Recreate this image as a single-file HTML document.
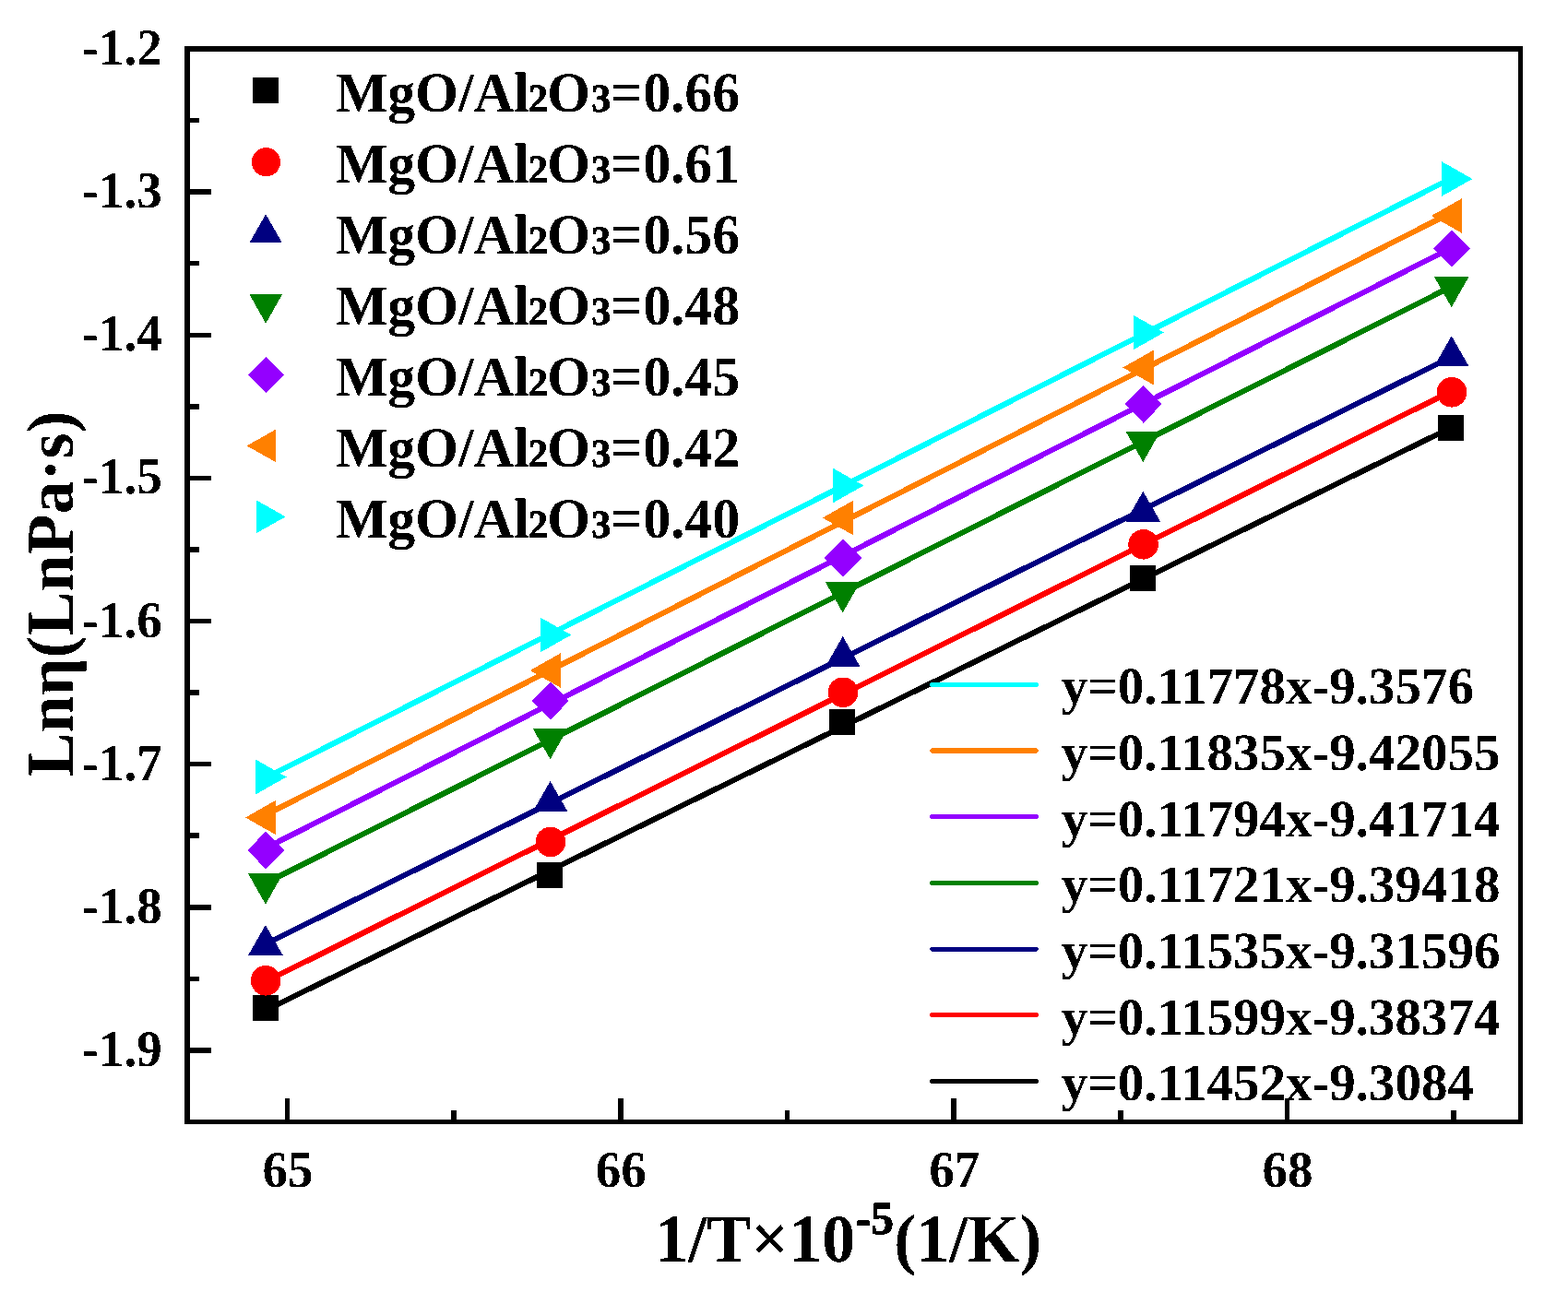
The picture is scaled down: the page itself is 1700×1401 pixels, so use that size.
<!DOCTYPE html>
<html lang="en"><head><meta charset="utf-8"><title>Ln viscosity vs 1/T</title>
<style>
html,body{margin:0;padding:0;background:#fff;}
body{width:1700px;height:1401px;overflow:hidden;}
svg{display:block;}
text{font-family:"Liberation Serif","DejaVu Serif",serif;font-weight:bold;fill:#000;text-rendering:geometricPrecision;stroke:#000;stroke-width:0px;stroke-linejoin:round;}
.tk{font-size:55px;}
.lg{font-size:60px;}
.eq{font-size:57px;}
.ti{font-size:72px;}
.sb{font-size:42px;stroke-width:0.8px;}
.sp{font-size:49.5px;stroke-width:0.8px;}
</style></head><body>
<svg width="1700" height="1401" viewBox="0 0 1700 1401">
<rect x="0" y="0" width="1700" height="1401" fill="#ffffff"/>
<defs><filter id="th" x="-5%" y="-20%" width="110%" height="140%" color-interpolation-filters="sRGB"><feComponentTransfer><feFuncA type="discrete" tableValues="0 1"/></feComponentTransfer></filter></defs>
<g shape-rendering="crispEdges">
<rect x="203" y="53" width="1445.5" height="1163.5" fill="none" stroke="#000" stroke-width="5.5"/>
<rect x="203" y="127.82" width="12.75" height="5.5" fill="#000"/>
<rect x="203" y="205.38" width="25.75" height="5.5" fill="#000"/>
<rect x="203" y="282.95" width="12.75" height="5.5" fill="#000"/>
<rect x="203" y="360.52" width="25.75" height="5.5" fill="#000"/>
<rect x="203" y="438.08" width="12.75" height="5.5" fill="#000"/>
<rect x="203" y="515.65" width="25.75" height="5.5" fill="#000"/>
<rect x="203" y="593.22" width="12.75" height="5.5" fill="#000"/>
<rect x="203" y="670.78" width="25.75" height="5.5" fill="#000"/>
<rect x="203" y="748.35" width="12.75" height="5.5" fill="#000"/>
<rect x="203" y="825.92" width="25.75" height="5.5" fill="#000"/>
<rect x="203" y="903.48" width="12.75" height="5.5" fill="#000"/>
<rect x="203" y="981.05" width="25.75" height="5.5" fill="#000"/>
<rect x="203" y="1058.62" width="12.75" height="5.5" fill="#000"/>
<rect x="203" y="1136.18" width="25.75" height="5.5" fill="#000"/>
<rect x="308.66" y="1190.75" width="5.5" height="25.75" fill="#000"/>
<rect x="489.35" y="1203.75" width="5.5" height="12.75" fill="#000"/>
<rect x="670.04" y="1190.75" width="5.5" height="25.75" fill="#000"/>
<rect x="850.72" y="1203.75" width="5.5" height="12.75" fill="#000"/>
<rect x="1031.41" y="1190.75" width="5.5" height="25.75" fill="#000"/>
<rect x="1212.10" y="1203.75" width="5.5" height="12.75" fill="#000"/>
<rect x="1392.79" y="1190.75" width="5.5" height="25.75" fill="#000"/>
<rect x="1573.47" y="1203.75" width="5.5" height="12.75" fill="#000"/>
</g>
<text class="tk" transform="translate(175.7,70.00) rotate(0) scale(1,1.02)" text-anchor="end" filter="url(#th)">-1.2</text>
<text class="tk" transform="translate(175.7,225.13) rotate(0) scale(1,1.02)" text-anchor="end" filter="url(#th)">-1.3</text>
<text class="tk" transform="translate(175.7,380.27) rotate(0) scale(1,1.02)" text-anchor="end" filter="url(#th)">-1.4</text>
<text class="tk" transform="translate(175.7,535.40) rotate(0) scale(1,1.02)" text-anchor="end" filter="url(#th)">-1.5</text>
<text class="tk" transform="translate(175.7,690.53) rotate(0) scale(1,1.02)" text-anchor="end" filter="url(#th)">-1.6</text>
<text class="tk" transform="translate(175.7,845.67) rotate(0) scale(1,1.02)" text-anchor="end" filter="url(#th)">-1.7</text>
<text class="tk" transform="translate(175.7,1000.80) rotate(0) scale(1,1.02)" text-anchor="end" filter="url(#th)">-1.8</text>
<text class="tk" transform="translate(175.7,1155.93) rotate(0) scale(1,1.02)" text-anchor="end" filter="url(#th)">-1.9</text>
<text class="tk" transform="translate(311.91,1286.8) rotate(0) scale(1,1.02)" text-anchor="middle" filter="url(#th)">65</text>
<text class="tk" transform="translate(673.29,1286.8) rotate(0) scale(1,1.02)" text-anchor="middle" filter="url(#th)">66</text>
<text class="tk" transform="translate(1034.66,1286.8) rotate(0) scale(1,1.02)" text-anchor="middle" filter="url(#th)">67</text>
<text class="tk" transform="translate(1396.04,1286.8) rotate(0) scale(1,1.02)" text-anchor="middle" filter="url(#th)">68</text>
<g shape-rendering="crispEdges">
<line x1="287.92" y1="1095.56" x2="1573.70" y2="463.45" stroke="#000000" stroke-width="6"/>
<rect x="274" y="1079" width="28" height="28" fill="#000000"/>
<rect x="582" y="935" width="28" height="28" fill="#000000"/>
<rect x="899" y="769" width="28" height="28" fill="#000000"/>
<rect x="1225" y="613" width="28" height="28" fill="#000000"/>
<rect x="1559" y="450" width="28" height="28" fill="#000000"/>
<line x1="287.92" y1="1064.36" x2="1573.70" y2="424.14" stroke="#ff0000" stroke-width="6"/>
<circle cx="288.20" cy="1063.30" r="16.3" fill="#ff0000"/>
<circle cx="596.90" cy="913.00" r="16.3" fill="#ff0000"/>
<circle cx="914.00" cy="750.80" r="16.3" fill="#ff0000"/>
<circle cx="1239.60" cy="590.30" r="16.3" fill="#ff0000"/>
<circle cx="1574.00" cy="425.30" r="16.3" fill="#ff0000"/>
<line x1="287.92" y1="1023.68" x2="1573.70" y2="386.99" stroke="#000080" stroke-width="6"/>
<polygon points="287.90,1003.00 306.80,1036.00 269.00,1036.00" fill="#000080"/>
<polygon points="596.60,847.00 615.50,880.00 577.70,880.00" fill="#000080"/>
<polygon points="913.70,690.00 932.60,723.00 894.80,723.00" fill="#000080"/>
<polygon points="1239.30,532.80 1258.20,565.80 1220.40,565.80" fill="#000080"/>
<polygon points="1573.70,364.30 1592.60,397.30 1554.80,397.30" fill="#000080"/>
<line x1="287.92" y1="957.66" x2="1573.70" y2="310.70" stroke="#008000" stroke-width="6"/>
<polygon points="287.90,980.70 306.80,947.30 269.00,947.30" fill="#008000"/>
<polygon points="596.60,823.40 615.50,790.00 577.70,790.00" fill="#008000"/>
<polygon points="913.70,664.40 932.60,631.00 894.80,631.00" fill="#008000"/>
<polygon points="1239.30,501.10 1258.20,467.70 1220.40,467.70" fill="#008000"/>
<polygon points="1573.70,333.30 1592.60,299.90 1554.80,299.90" fill="#008000"/>
<line x1="287.92" y1="919.74" x2="1573.70" y2="268.75" stroke="#9400ff" stroke-width="6"/>
<polygon points="288.20,901.70 308.20,922.00 288.20,942.30 268.20,922.00" fill="#9400ff"/>
<polygon points="596.90,739.70 616.90,760.00 596.90,780.30 576.90,760.00" fill="#9400ff"/>
<polygon points="914.00,584.70 934.00,605.00 914.00,625.30 894.00,605.00" fill="#9400ff"/>
<polygon points="1239.60,418.00 1259.60,438.30 1239.60,458.60 1219.60,438.30" fill="#9400ff"/>
<polygon points="1574.00,249.10 1594.00,269.40 1574.00,289.70 1554.00,269.40" fill="#9400ff"/>
<line x1="287.92" y1="883.73" x2="1573.70" y2="230.48" stroke="#ff8000" stroke-width="6"/>
<polygon points="266.00,886.50 299.40,867.60 299.40,905.40" fill="#ff8000"/>
<polygon points="574.70,727.00 608.10,708.10 608.10,745.90" fill="#ff8000"/>
<polygon points="891.80,561.50 925.20,542.60 925.20,580.40" fill="#ff8000"/>
<polygon points="1217.40,398.50 1250.80,379.60 1250.80,417.40" fill="#ff8000"/>
<polygon points="1551.80,234.00 1585.20,215.10 1585.20,252.90" fill="#ff8000"/>
<line x1="287.92" y1="843.49" x2="1573.70" y2="193.39" stroke="#00ffff" stroke-width="6"/>
<polygon points="310.60,842.50 277.20,823.60 277.20,861.40" fill="#00ffff"/>
<polygon points="619.30,688.50 585.90,669.60 585.90,707.40" fill="#00ffff"/>
<polygon points="936.40,526.50 903.00,507.60 903.00,545.40" fill="#00ffff"/>
<polygon points="1262.00,360.50 1228.60,341.60 1228.60,379.40" fill="#00ffff"/>
<polygon points="1596.40,194.00 1563.00,175.10 1563.00,212.90" fill="#00ffff"/>
</g>
<g shape-rendering="crispEdges"><rect x="274" y="84" width="28" height="28" fill="#000000"/></g>
<text class="lg" transform="translate(363.7,120.50) scale(1,1.025)" filter="url(#th)">MgO/Al<tspan dx="19.50">O</tspan><tspan dx="22.30">=</tspan><tspan dx="1.0">0.66</tspan></text>
<text class="sb" transform="translate(572.92,120.50) scale(1,1.025)" filter="url(#th)">2</text>
<text class="sb" transform="translate(641.14,120.50) scale(1,1.025)" filter="url(#th)">3</text>
<g shape-rendering="crispEdges"><circle cx="288.50" cy="175.70" r="15.6" fill="#ff0000"/></g>
<text class="lg" transform="translate(363.7,197.60) scale(1,1.025)" filter="url(#th)">MgO/Al<tspan dx="19.50">O</tspan><tspan dx="22.30">=</tspan><tspan dx="1.0">0.61</tspan></text>
<text class="sb" transform="translate(572.92,197.60) scale(1,1.025)" filter="url(#th)">2</text>
<text class="sb" transform="translate(641.14,197.60) scale(1,1.025)" filter="url(#th)">3</text>
<g shape-rendering="crispEdges"><polygon points="288.20,232.20 306.00,263.40 270.40,263.40" fill="#000080"/></g>
<text class="lg" transform="translate(363.7,274.70) scale(1,1.025)" filter="url(#th)">MgO/Al<tspan dx="19.50">O</tspan><tspan dx="22.30">=</tspan><tspan dx="1.0">0.56</tspan></text>
<text class="sb" transform="translate(572.92,274.70) scale(1,1.025)" filter="url(#th)">2</text>
<text class="sb" transform="translate(641.14,274.70) scale(1,1.025)" filter="url(#th)">3</text>
<g shape-rendering="crispEdges"><polygon points="288.20,350.80 306.00,319.20 270.40,319.20" fill="#008000"/></g>
<text class="lg" transform="translate(363.7,351.80) scale(1,1.025)" filter="url(#th)">MgO/Al<tspan dx="19.50">O</tspan><tspan dx="22.30">=</tspan><tspan dx="1.0">0.48</tspan></text>
<text class="sb" transform="translate(572.92,351.80) scale(1,1.025)" filter="url(#th)">2</text>
<text class="sb" transform="translate(641.14,351.80) scale(1,1.025)" filter="url(#th)">3</text>
<g shape-rendering="crispEdges"><polygon points="288.50,386.70 307.90,406.40 288.50,426.10 269.10,406.40" fill="#9400ff"/></g>
<text class="lg" transform="translate(363.7,428.90) scale(1,1.025)" filter="url(#th)">MgO/Al<tspan dx="19.50">O</tspan><tspan dx="22.30">=</tspan><tspan dx="1.0">0.45</tspan></text>
<text class="sb" transform="translate(572.92,428.90) scale(1,1.025)" filter="url(#th)">2</text>
<text class="sb" transform="translate(641.14,428.90) scale(1,1.025)" filter="url(#th)">3</text>
<g shape-rendering="crispEdges"><polygon points="267.50,483.40 299.10,465.60 299.10,501.20" fill="#ff8000"/></g>
<text class="lg" transform="translate(363.7,506.00) scale(1,1.025)" filter="url(#th)">MgO/Al<tspan dx="19.50">O</tspan><tspan dx="22.30">=</tspan><tspan dx="1.0">0.42</tspan></text>
<text class="sb" transform="translate(572.92,506.00) scale(1,1.025)" filter="url(#th)">2</text>
<text class="sb" transform="translate(641.14,506.00) scale(1,1.025)" filter="url(#th)">3</text>
<g shape-rendering="crispEdges"><polygon points="309.70,560.30 278.10,542.50 278.10,578.10" fill="#00ffff"/></g>
<text class="lg" transform="translate(363.7,583.10) scale(1,1.025)" filter="url(#th)">MgO/Al<tspan dx="19.50">O</tspan><tspan dx="22.30">=</tspan><tspan dx="1.0">0.40</tspan></text>
<text class="sb" transform="translate(572.92,583.10) scale(1,1.025)" filter="url(#th)">2</text>
<text class="sb" transform="translate(641.14,583.10) scale(1,1.025)" filter="url(#th)">3</text>
<line shape-rendering="crispEdges" x1="1010.8" y1="742.30" x2="1123.2" y2="742.30" stroke="#00ffff" stroke-width="5.2" stroke-linecap="round"/>
<text class="eq" transform="translate(1150.8,763.10) rotate(0) scale(1,1.0)" filter="url(#th)">y=0.11778x-9.3576</text>
<line shape-rendering="crispEdges" x1="1010.8" y1="814.00" x2="1123.2" y2="814.00" stroke="#ff8000" stroke-width="5.2" stroke-linecap="round"/>
<text class="eq" transform="translate(1150.8,834.80) rotate(0) scale(1,1.0)" filter="url(#th)">y=0.11835x-9.42055</text>
<line shape-rendering="crispEdges" x1="1010.8" y1="885.70" x2="1123.2" y2="885.70" stroke="#9400ff" stroke-width="5.2" stroke-linecap="round"/>
<text class="eq" transform="translate(1150.8,906.50) rotate(0) scale(1,1.0)" filter="url(#th)">y=0.11794x-9.41714</text>
<line shape-rendering="crispEdges" x1="1010.8" y1="957.40" x2="1123.2" y2="957.40" stroke="#008000" stroke-width="5.2" stroke-linecap="round"/>
<text class="eq" transform="translate(1150.8,978.20) rotate(0) scale(1,1.0)" filter="url(#th)">y=0.11721x-9.39418</text>
<line shape-rendering="crispEdges" x1="1010.8" y1="1029.10" x2="1123.2" y2="1029.10" stroke="#000080" stroke-width="5.2" stroke-linecap="round"/>
<text class="eq" transform="translate(1150.8,1049.90) rotate(0) scale(1,1.0)" filter="url(#th)">y=0.11535x-9.31596</text>
<line shape-rendering="crispEdges" x1="1010.8" y1="1100.80" x2="1123.2" y2="1100.80" stroke="#ff0000" stroke-width="5.2" stroke-linecap="round"/>
<text class="eq" transform="translate(1150.8,1121.60) rotate(0) scale(1,1.0)" filter="url(#th)">y=0.11599x-9.38374</text>
<line shape-rendering="crispEdges" x1="1010.8" y1="1172.50" x2="1123.2" y2="1172.50" stroke="#000000" stroke-width="5.2" stroke-linecap="round"/>
<text class="eq" transform="translate(1150.8,1193.30) rotate(0) scale(1,1.0)" filter="url(#th)">y=0.11452x-9.3084</text>
<text class="ti" transform="translate(710.2,1367.6) scale(1,1.025)" filter="url(#th)">1/T×10<tspan dx="42.03">(1/K)</tspan></text>
<text class="sp" transform="translate(927.69,1337.80) scale(1,1.025)" filter="url(#th)">-5</text>
<text class="ti" transform="translate(78.6,842.5) rotate(-90) scale(1,1.0)" filter="url(#th)">Lnη(LnPa·s)</text>
</svg>
</body></html>
